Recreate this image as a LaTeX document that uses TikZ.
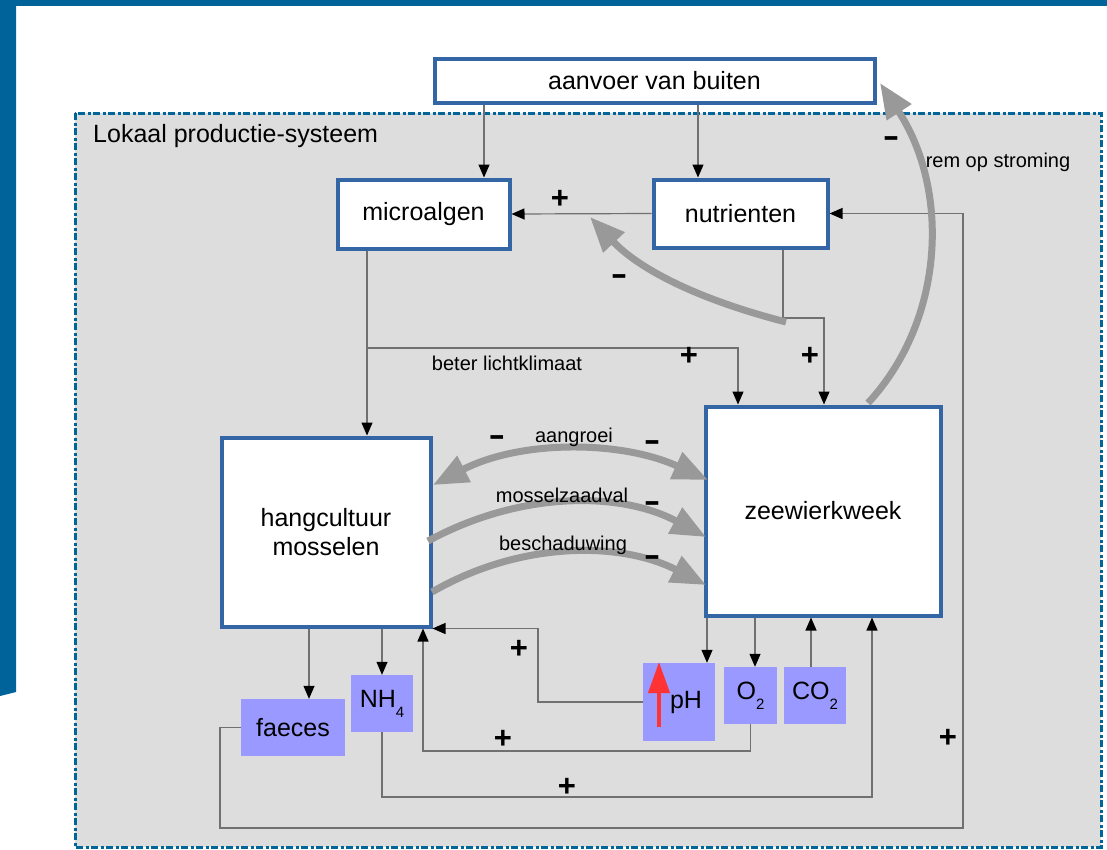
\documentclass[tikz,border=0pt]{standalone}
\usepackage{fontspec}
\setmainfont{Liberation Sans}
\usetikzlibrary{arrows.meta,calc}
\definecolor{topblue}{RGB}{0,99,154}
\definecolor{boxblue}{HTML}{3465A4}
\definecolor{frameblue}{RGB}{0,102,153}
\definecolor{bggray}{RGB}{221,221,221}
\definecolor{lilac}{HTML}{9999FF}
\definecolor{fatgray}{HTML}{999999}
\definecolor{conncol}{HTML}{707070}
\definecolor{redarrow}{HTML}{FF3333}
\begin{document}
\begin{tikzpicture}[x=1pt,y=-1pt,
  bigbox/.style={draw=boxblue, line width=4pt, fill=white, inner sep=0pt, align=center, font=\fontsize{25}{29}\selectfont},
  chem/.style={fill=lilac, inner sep=0pt, font=\fontsize{25}{29}\selectfont},
  conn/.style={draw=conncol, line width=1.2pt, -{Triangle[length=13pt,width=11pt,color=black]}},
  fat/.style={draw=fatgray, line width=7pt, -{Triangle[length=35pt,width=28pt]}},
  fatboth/.style={draw=fatgray, line width=7pt, {Triangle[length=35pt,width=28pt]}-{Triangle[length=35pt,width=28pt]}},
  sign/.style={font=\fontsize{31}{31}\selectfont\bfseries, inner sep=0pt},
  lbl/.style={font=\fontsize{20}{20}\selectfont, inner sep=0pt}]
\useasboundingbox (0,0) rectangle (1107,849);
% page decoration
\fill[white] (0,0) rectangle (1107,849);
\fill[topblue] (0,0) rectangle (1107,6);
\fill[topblue] (0,0) -- (16,0) -- (16,692) -- (0,696) -- cycle;
% frame
\draw[frameblue, fill=bggray, line width=3pt, dash pattern=on 7pt off 2.5pt on 3pt off 2.5pt]
  (75,113) rectangle (1101,847);
\node[font=\fontsize{25}{29}\selectfont, anchor=west, inner sep=0pt] (lokaal) at (93,136) {Lokaal productie-systeem};

% main boxes
\node[bigbox, minimum width=440pt, minimum height=44pt] (aanv) at (654.5,80.5) {aanvoer van buiten};
\node[bigbox, minimum width=172pt, minimum height=69pt] (micro) at (423.5,214) {microalgen};
\node[bigbox, minimum width=174pt, minimum height=68pt] (nutr) at (740.5,213.5) {nutrienten};
\node[bigbox, minimum width=209pt, minimum height=189pt] (hang) at (326,532) {hangcultuur\\mosselen};
\node[bigbox, minimum width=235pt, minimum height=209pt] (zee) at (823,511) {zeewierkweek};

% chemical boxes
\node[chem, minimum width=104pt, minimum height=57pt] (faeces) at (293,727.5) {faeces};
\node[chem, minimum width=62pt, minimum height=57pt] (nh4) at (382,703.5) {NH\raisebox{-0.4em}{\fontsize{15}{15}\selectfont 4}};
\node[chem, minimum width=72pt, minimum height=78pt] (ph) at (679,702) {\hspace{14pt}pH};
\node[chem, minimum width=53pt, minimum height=57pt] (o2) at (750.5,695.5) {O\raisebox{-0.4em}{\fontsize{15}{15}\selectfont 2}};
\node[chem, minimum width=62pt, minimum height=57pt] (co2) at (815,695.5) {CO\raisebox{-0.4em}{\fontsize{15}{15}\selectfont 2}};

% helper coordinates
\coordinate (xa) at (484,0);
\coordinate (xn) at (698,0);
\coordinate (xm) at (367,0);
\coordinate (br) at (367,348);
\coordinate (xb) at (738,0);
\coordinate (k1) at (783,318);
\coordinate (xk) at (824,0);
\coordinate (xf) at (309,0);
\coordinate (xp) at (707,0);
\coordinate (xo) at (755,0);
\coordinate (xc) at (811,0);
\coordinate (x538) at (538,0);
\coordinate (ob) at (423,751);
\coordinate (nb) at (872,797);
\coordinate (fl) at (220,828);
\coordinate (fr) at (963,828);

% thin connectors
\draw[conn] (aanv.south -| xa) -- (micro.north -| xa);
\draw[conn] (aanv.south -| xn) -- (nutr.north -| xn);
\draw[conn] (nutr.west) -- (micro.east);
\draw[conn] (faeces.west) -| (fl) -- (fr) |- (nutr.east);
\draw[conn] (micro.south -| xm) -- (hang.north -| xm);
\draw[conn] (br) -| (zee.north -| xb);
\draw[conn] (nutr.south -| k1) -- (k1) -| (zee.north -| xk);
\draw[conn] (hang.south -| xf) -- (faeces.north -| xf);
\draw[conn] (hang.south -| nh4) -- (nh4.north);
\draw[conn] (zee.south -| xp) -- (ph.north -| xp);
\draw[conn] (zee.south -| xo) -- (o2.north -| xo);
\draw[conn] (co2.north -| xc) -- (zee.south -| xc);
\draw[conn] (ph.west) -| (hang.south east -| x538) -- (hang.south east);
\draw[conn] (o2.south) |- (ob) -- (hang.south -| ob);
\draw[conn] (nh4.south) |- (nb) -- (zee.south -| nb);

% fat grey arrows
\coordinate (g1s) at (786,322);
\coordinate (g1e) at (590,217);
\draw[fat] (g1s) .. controls (700,300) and (640,270) .. (g1e);
\coordinate (g2s) at (868,403);
\coordinate (g2e) at (880,83);
\draw[fat] (g2s) .. controls (945,320) and (950,190) .. (g2e);
\coordinate (a1) at (433,485);
\coordinate (a2) at (708,480);
\draw[fatboth] (a1) .. controls (520,440) and (620,440) .. (a2);
\coordinate (m1) at (428,541);
\coordinate (m2) at (706,537);
\draw[fat] (m1) .. controls (520,491) and (620,491) .. (m2);
\coordinate (b1) at (432,592);
\coordinate (b2) at (706,585);
\draw[fat] (b1) .. controls (520,541) and (620,541) .. (b2);

% red arrow in pH
\coordinate (ra) at (659,727);
\coordinate (rb) at (659,662);
\draw[redarrow, line width=4pt, -{Triangle[length=31pt,width=21pt]}] (ra) -- (rb);

% labels
\node[lbl] (l1) at (507,363) {beter lichtklimaat};
\node[lbl] (l2) at (998,162) {rem op stroming};
\node[lbl] (l3) at (574,437) {aangroei};
\node[lbl] (l4) at (562,495) {mosselzaadval};
\node[lbl] (l5) at (563,545) {beschaduwing};

% signs
\node[sign] (p1) at (560,199) {+};
\node[sign] (p2) at (689,356) {+};
\node[sign] (p3) at (810,356) {+};
\node[sign] (p4) at (519,649) {+};
\node[sign] (p5) at (503,739) {+};
\node[sign] (p6) at (567,787) {+};
\node[sign] (p7) at (948,738) {+};
\node[sign] (n1) at (619,280) {\scalebox{1.6}[1]{-}};
\node[sign] (n2) at (891,142) {\scalebox{1.6}[1]{-}};
\node[sign] (n3) at (497,441) {\scalebox{1.6}[1]{-}};
\node[sign] (n4) at (652,446) {\scalebox{1.6}[1]{-}};
\node[sign] (n5) at (652,507) {\scalebox{1.6}[1]{-}};
\node[sign] (n6) at (652,561) {\scalebox{1.6}[1]{-}};
\end{tikzpicture}
\end{document}
